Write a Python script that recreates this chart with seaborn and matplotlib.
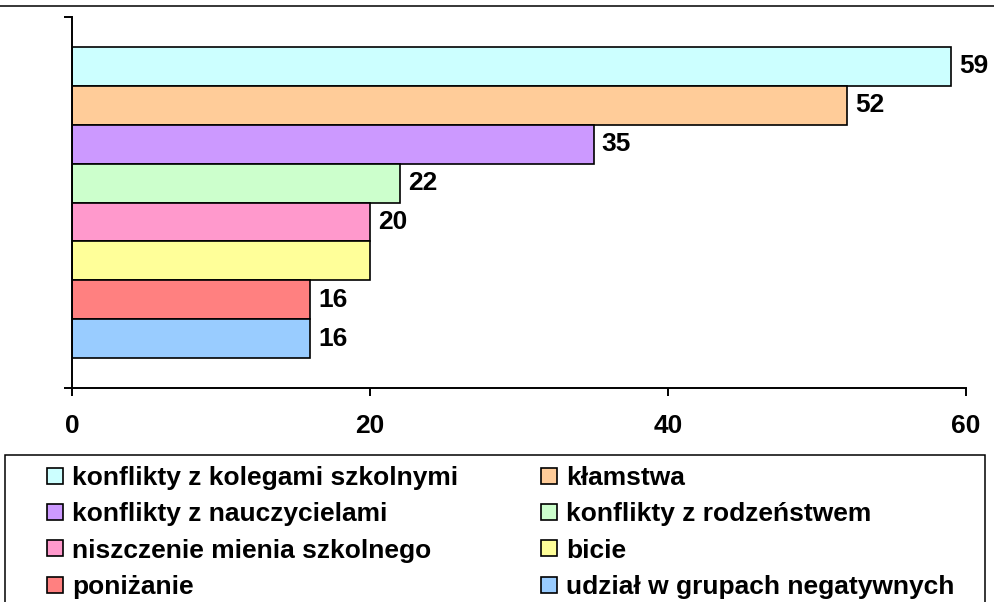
import matplotlib
matplotlib.use('Agg')
import pandas as pd
import matplotlib.pyplot as plt
import seaborn as sns
from matplotlib.patches import Patch, Rectangle
from matplotlib.lines import Line2D

# data
categories = ['konflikty z kolegami szkolnymi', 'kłamstwa', 'konflikty z nauczycielami',
              'konflikty z rodzeństwem', 'niszczenie mienia szkolnego', 'bicie',
              'poniżanie', 'udział w grupach negatywnych']
values = [59, 52, 35, 22, 20, 20, 16, 16]
bar_labels = ['59', '52', '35', '22', '20', '', '16', '16']
colors = ['#CCFFFF', '#FFCC99', '#CC99FF', '#CCFFCC', '#FF99CC', '#FFFF99', '#FF8080', '#99CCFF']
xticks = [0, 20, 40, 60]

df = pd.DataFrame({'grupa': [''] * len(values), 'kategoria': categories, 'liczba': values})

sns.set_style('white')
plt.rcParams['font.family'] = ['Liberation Sans', 'DejaVu Sans']
plt.rcParams['font.weight'] = 'bold'
plt.rcParams['text.color'] = 'black'

W, H = 994, 602
fs = 19
fig = plt.figure(figsize=(W / 100, H / 100), dpi=100)
ax = fig.add_axes([72 / W, 1 - 388 / H, (966 - 72) / W, (388 - 17) / H])

sns.barplot(data=df, x='liczba', y='grupa', hue='kategoria', hue_order=categories,
            palette=colors, orient='h', width=0.84, saturation=1,
            edgecolor='black', linewidth=1.2, legend=False, ax=ax)

# value labels
for cont, lab in zip(ax.containers, bar_labels):
    ax.bar_label(cont, labels=[lab], padding=6, fontsize=fs, fontweight='bold', color='black')

ax.set_xlim(0, 60)
ax.set_ylim(0.5, -0.5)
ax.set_xticks(xticks)
ax.set_xticklabels([str(t) for t in xticks], fontsize=fs, fontweight='bold', color='black')
ax.set_yticks([-0.5, 0.5])
ax.set_yticklabels([])
ax.set_xlabel('')
ax.set_ylabel('')
ax.tick_params(axis='both', direction='out', length=6, width=1.4, colors='black',
               bottom=True, left=True, pad=13)
for s in ['top', 'right']:
    ax.spines[s].set_visible(False)
for s in ['left', 'bottom']:
    ax.spines[s].set_color('black')
    ax.spines[s].set_linewidth(1.4)

# legend
handles = [Patch(facecolor=c, edgecolor='black', linewidth=1.2) for c in colors]
order = [0, 2, 4, 6, 1, 3, 5, 7]
fig.legend([handles[i] for i in order], [categories[i] for i in order], ncol=2,
           loc='upper left', bbox_to_anchor=(47 / W, 1 - 466 / H), borderaxespad=0,
           borderpad=0, frameon=False, handlelength=0.61, handleheight=0.555,
           handletextpad=0.34, labelspacing=0.47, columnspacing=3.15,
           labelcolor='black', prop={'weight': 'bold', 'size': fs})

fig.patches.append(Rectangle((5 / W, -0.1), 980 / W, 0.1 + (H - 455) / H,
                             transform=fig.transFigure, fill=False,
                             edgecolor='black', linewidth=1.1))
fig.lines.append(Line2D([0, 1], [1 - 6 / H, 1 - 6 / H], transform=fig.transFigure,
                        color='black', linewidth=1.1))

fig.savefig('out.png', dpi=100)
